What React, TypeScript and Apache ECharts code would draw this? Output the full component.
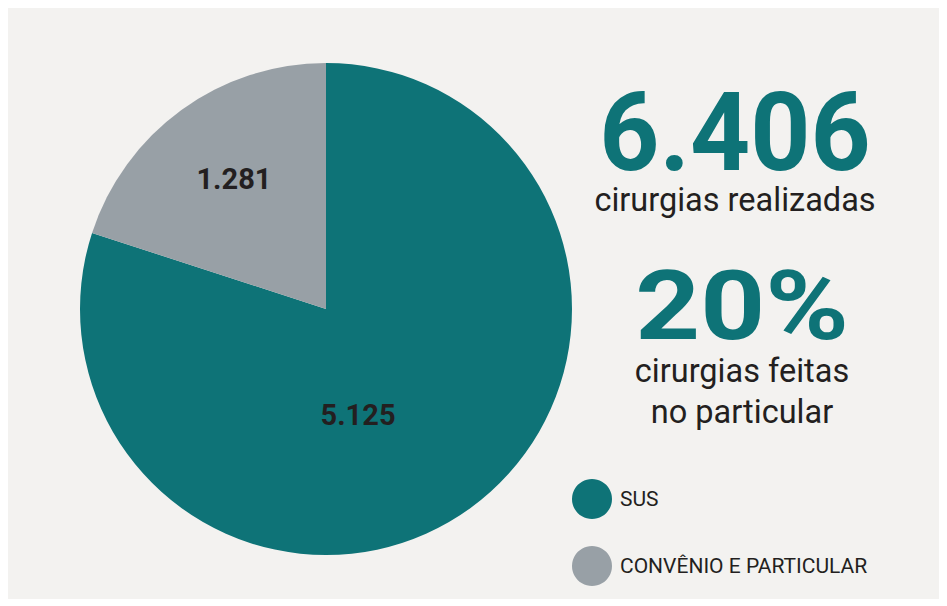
import React, { useEffect, useRef } from "react";
import * as echarts from "echarts";

const categories = ["SUS", "CONVÊNIO E PARTICULAR"];
const values = [5125, 1281];
const valueLabels = ["5.125", "1.281"];
const colors = ["#0e7377", "#98a0a6"];
const headline = ["6.406", "cirurgias realizadas", "20%", "cirurgias feitas", "no particular"];

export default function App() {
  const ref = useRef<HTMLDivElement>(null);
  useEffect(() => {
    const chart = echarts.init(ref.current!, null, { renderer: "svg" });
    const font = "Roboto, 'Noto Sans', sans-serif";
    chart.setOption({
      animation: false,
      backgroundColor: "#f3f2f0",
      textStyle: { fontFamily: font },
      legend: {
        orient: "vertical",
        left: 564,
        top: 471,
        padding: 0,
        icon: "circle",
        itemWidth: 40,
        itemHeight: 40,
        itemGap: 27,
        selectedMode: false,
        textStyle: { fontFamily: font, fontSize: 21, color: "#231f20", padding: [0, 0, 0, 3] },
        data: categories,
      },
      series: [
        {
          type: "pie",
          center: [318, 301],
          radius: 246,
          startAngle: 90,
          clockwise: true,
          silent: true,
          label: {
            show: true,
            position: "inside",
            fontFamily: font,
            fontSize: 29,
            fontWeight: "bold",
            color: "#231f20",
            formatter: (p: any) => valueLabels[p.dataIndex],
          },
          labelLayout: (p: any) => (p.dataIndex === 0 ? { dx: -42, dy: 4 } : { dx: -18, dy: -28 }),
          labelLine: { show: false },
          data: categories.map((c, i) => ({ name: c, value: values[i], itemStyle: { color: colors[i] } })),
        },
      ],
      graphic: [
        { type: "text", x: 727, y: 124, scaleX: 0.955, style: { text: headline[0], font: `bold 110px ${font}`, fill: colors[0], textAlign: "center", textVerticalAlign: "middle" } },
        { type: "text", x: 727, y: 192, style: { text: headline[1], font: `32.5px ${font}`, fill: "#231f20", textAlign: "center", textVerticalAlign: "middle" } },
        { type: "text", x: 734, y: 299, scaleX: 1.18, style: { text: headline[2], font: `bold 96px ${font}`, fill: colors[0], textAlign: "center", textVerticalAlign: "middle" } },
        { type: "text", x: 734, y: 363, style: { text: headline[3], font: `32.5px ${font}`, fill: "#231f20", textAlign: "center", textVerticalAlign: "middle" } },
        { type: "text", x: 734, y: 404, style: { text: headline[4], font: `32.5px ${font}`, fill: "#231f20", textAlign: "center", textVerticalAlign: "middle" } },
      ],
    });
    return () => chart.dispose();
  }, []);
  return <div ref={ref} style={{ width: 931, height: 591 }} />;
}
